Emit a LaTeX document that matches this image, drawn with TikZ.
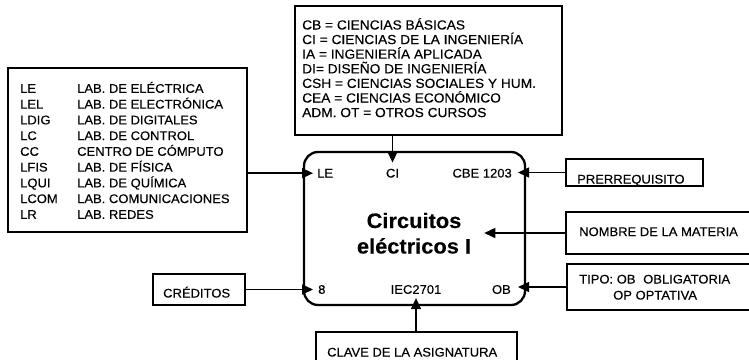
\documentclass[tikz,border=0pt]{standalone}
\usepackage{fontspec}
\setmainfont{Liberation Sans}[FakeStretch=1.04,FakeBold=0.3]
\usetikzlibrary{arrows.meta,calc}
\tikzset{
  box/.style={draw, line width=1.3pt, inner sep=0pt},
  mainbox/.style={draw, line width=2.3pt, rounded corners=14pt, inner sep=0pt},
  txt/.style={inner sep=0pt, font=\fontsize{12.5}{15}\selectfont},
  toptxt/.style={inner sep=0pt, font=\fontsize{13.2}{15}\selectfont},
  ttl/.style={inner sep=0pt, font=\fontsize{21}{25}\selectfont\bfseries},
  arr/.style={line width=1.5pt, -{Triangle[length=11pt,width=10pt]}},
}
\begin{document}
\begin{tikzpicture}[x=1pt,y=-1pt]
\useasboundingbox (0,0) rectangle (749,359);
% boxes
\node[box, minimum width=239pt, minimum height=164pt] (legend) at (127.5,150) {};
\node[box, minimum width=267pt, minimum height=129pt] (topbox) at (428.5,70.5) {};
\node[mainbox, minimum width=221pt, minimum height=153pt] (main) at (414.5,228.5) {};
\node[box, minimum width=137pt, minimum height=27pt] (pre) at (634.5,172.5) {};
\node[box, minimum width=186pt, minimum height=42pt] (nombre) at (659,233) {};
\node[box, minimum width=185pt, minimum height=46pt] (tipo) at (659.5,287) {};
\node[box, minimum width=92pt, minimum height=31pt] (cred) at (199,289.5) {};
\node[box, minimum width=201pt, minimum height=33pt] (clave) at (416.5,348.5) {};
% legend text
\foreach \a/\b [count=\i] in {LE/LAB. DE ELÉCTRICA, LEL/LAB. DE ELECTRÓNICA, LDIG/LAB. DE DIGITALES, LC/LAB. DE CONTROL, CC/CENTRO DE CÓMPUTO, LFIS/LAB. DE FÍSICA, LQUI/LAB. DE QUÍMICA, LCOM/LAB. COMUNICACIONES, LR/LAB. REDES} {
  \node[txt, anchor=base west] (la\i) at (20,{92.8+15.75*(\i-1)}) {\a};
  \node[txt, anchor=base west] (lb\i) at (77,{92.8+15.75*(\i-1)}) {\b};
}
% top box text
\foreach \t [count=\i] in {CB = CIENCIAS BÁSICAS, CI = CIENCIAS DE LA INGENIERÍA, IA = INGENIERÍA APLICADA, DI= DISEÑO DE INGENIERÍA, CSH = CIENCIAS SOCIALES Y HUM., CEA = CIENCIAS ECONÓMICO, ADM. OT = OTROS CURSOS} {
  \node[toptxt, anchor=base west] (tb\i) at (302,{29.5+14.6*(\i-1)}) {\t};
}
% main box content
\node[txt, anchor=base west] (LE) at (317,177.5) {LE};
\node[txt, anchor=base] (CI) at (392.5,177.5) {CI};
\node[txt, anchor=base east] (CBE) at (512,177.5) {CBE 1203};
\node[ttl, anchor=base] (t1) at (414,228) {Circuitos};
\node[ttl, anchor=base] (t2) at (414,253.5) {eléctricos I};
\node[txt, anchor=base west] (n8) at (318,293.8) {8};
\node[txt, anchor=base] (IEC) at (416,293.8) {IEC2701};
\node[txt, anchor=base east] (OB) at (511,293.8) {OB};
% side texts
\node[txt, anchor=base west] (pret) at (577,183.5) {PRERREQUISITO};
\node[txt, anchor=base west] (nomt) at (579,236) {NOMBRE DE LA MATERIA};
\node[txt, anchor=base west] (tp1) at (579,283.5) {TIPO: OB};
\node[txt, anchor=base west] (tp2) at (643,283.5) {OBLIGATORIA};
\node[txt, anchor=base west] (tp3) at (613,299.5) {OP OPTATIVA};
\node[txt, anchor=base west] (credt) at (163,297.5) {CRÉDITOS};
\node[txt, anchor=base west] (clavet) at (327,356.5) {CLAVE DE LA ASIGNATURA};
% connectors
\draw[arr] (legend.east |- LE.west) -- ($(LE.west)+(-4pt,0)$);
\draw[arr] (topbox.south -| CI.north) -- ($(CI.north)+(0,6pt)$);
\draw[arr] (pre.west) -- ($(pre.west -| CBE.east)+(6pt,0)$);
\draw[arr] (nombre.west) -- ($(nombre.west -| t2.east)+(13pt,0)$);
\draw[arr] (tipo.west) -- ($(tipo.west -| OB.east)+(7pt,0)$);
\draw[arr] (cred.east) -- ($(cred.east -| n8.west)+(-5pt,0)$);
\draw[arr] (clave.north -| IEC.south) -- ($(IEC.south)+(0,-4pt)$);
\end{tikzpicture}
\end{document}
